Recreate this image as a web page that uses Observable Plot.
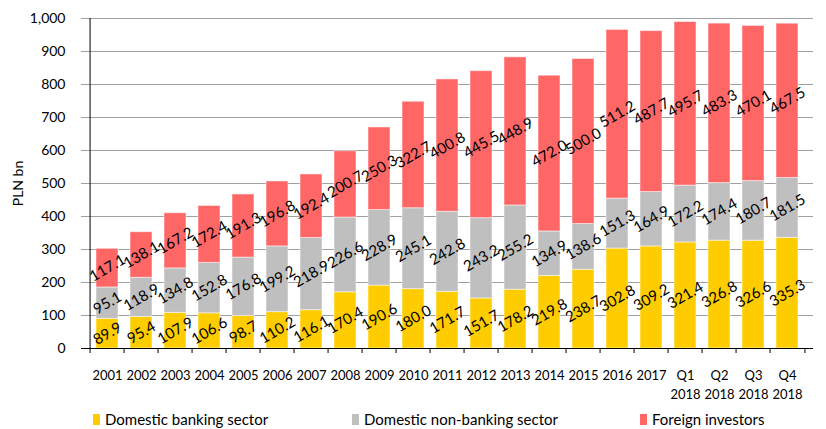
<!DOCTYPE html>
<html>
<head>
<meta charset="utf-8">
<script src="https://cdn.jsdelivr.net/npm/d3@7"></script>
<script src="https://cdn.jsdelivr.net/npm/@observablehq/plot@0.6"></script>
<style>
  body { margin: 0; background: #fff; font-family: Lato, "Liberation Sans", sans-serif; }
  #wrap { position: relative; width: 826px; height: 429px; }
  #legend { position: absolute; left: 0; top: 410px; width: 826px; height: 18px; font-size: 15px; color: #000; }
  .item { position: absolute; top: 0; display: flex; align-items: center; white-space: nowrap; }
  .sw { display: inline-block; width: 7px; height: 11px; margin-right: 5px; }
</style>
</head>
<body>
<div id="wrap">
  <div id="chart"></div>
  <div id="legend"></div>
</div>
<script>
const categories = ["2001","2002","2003","2004","2005","2006","2007","2008","2009","2010","2011","2012","2013","2014","2015","2016","2017","Q1\n2018","Q2\n2018","Q3\n2018","Q4\n2018"];
const seriesNames = ["Domestic banking sector", "Domestic non-banking sector", "Foreign investors"];
const seriesColors = ["#FFCC00", "#BFBFBF", "#FF6666"];
const banking = [89.9, 95.4, 107.9, 106.6, 98.7, 110.2, 116.1, 170.4, 190.6, 180.0, 171.7, 151.7, 178.2, 219.8, 238.7, 302.8, 309.2, 321.4, 326.8, 326.6, 335.3];
const nonBanking = [95.1, 118.9, 134.8, 152.8, 176.8, 199.2, 218.9, 226.6, 228.9, 245.1, 242.8, 243.2, 255.2, 134.9, 138.6, 151.3, 164.9, 172.2, 174.4, 180.7, 181.5];
const foreign = [117.1, 138.1, 167.2, 172.4, 191.3, 196.8, 192.4, 200.7, 250.3, 322.7, 400.8, 445.5, 448.9, 472.0, 500.0, 511.2, 487.7, 495.7, 483.3, 470.1, 467.5];
const yTicks = [0, 100, 200, 300, 400, 500, 600, 700, 800, 900, 1000];

const seriesValues = [banking, nonBanking, foreign];
const rows = [];
seriesNames.forEach((s, k) => {
  categories.forEach((c, i) => rows.push({cat: c, series: s, value: seriesValues[k][i]}));
});

const W = 826, H = 405, mL = 81, mR = 13, mT = 18, mB = H - 348;
const step = (W - mL - mR) / categories.length;

const chart = Plot.plot({
  width: W, height: H,
  marginLeft: mL, marginRight: mR, marginTop: mT, marginBottom: mB,
  style: {fontFamily: "Lato, 'Liberation Sans', sans-serif", background: "white", color: "black"},
  x: {domain: categories, paddingInner: 0.34, paddingOuter: 0.17, label: null},
  y: {domain: [0, 1000], label: null},
  color: {domain: seriesNames, range: seriesColors},
  marks: [
    Plot.ruleY(yTicks.slice(1), {stroke: "#a0a0a0", strokeWidth: 1}),
    Plot.barY(rows, Plot.stackY({x: "cat", y: "value", z: "series", fill: "series", stroke: "white", strokeOpacity: 0.5, strokeWidth: 1})),
    Plot.text(rows, Plot.stackY({x: "cat", y: "value", z: "series", text: d => d.value.toFixed(1), rotate: -30, fontSize: 15, fill: "black"})),
    Plot.ruleY([0], {stroke: "black", strokeWidth: 1}),
    Plot.ruleX([categories[0]], {y1: 0, y2: 1000, dx: -step / 2, stroke: "black", strokeWidth: 1}),
    Plot.axisY({ticks: yTicks, tickSize: 0, tickPadding: 16, tickFormat: d3.format(","), fontSize: 14, label: "PLN bn", labelAnchor: "center", labelOffset: 68, labelArrow: false}),
    Plot.axisX({ticks: categories, tickSize: 5, tickFormat: () => "", dx: -step / 2, stroke: "black"}),
    Plot.axisX({ticks: [categories[categories.length - 1]], tickSize: 5, tickFormat: () => "", dx: step / 2, stroke: "black"}),
    Plot.axisX({ticks: categories, tickSize: 0, tickPadding: 18, tickFormat: d => d, fontSize: 13, lineHeight: 1.45, label: null})
  ]
});
document.getElementById("chart").appendChild(chart);

const legendPos = [93, 352, 640];
const legend = document.getElementById("legend");
seriesNames.forEach((s, k) => {
  const item = document.createElement("div");
  item.className = "item";
  item.style.left = legendPos[k] + "px";
  const sw = document.createElement("span");
  sw.className = "sw";
  sw.style.background = seriesColors[k];
  item.appendChild(sw);
  item.appendChild(document.createTextNode(s));
  legend.appendChild(item);
});
</script>
</body>
</html>
